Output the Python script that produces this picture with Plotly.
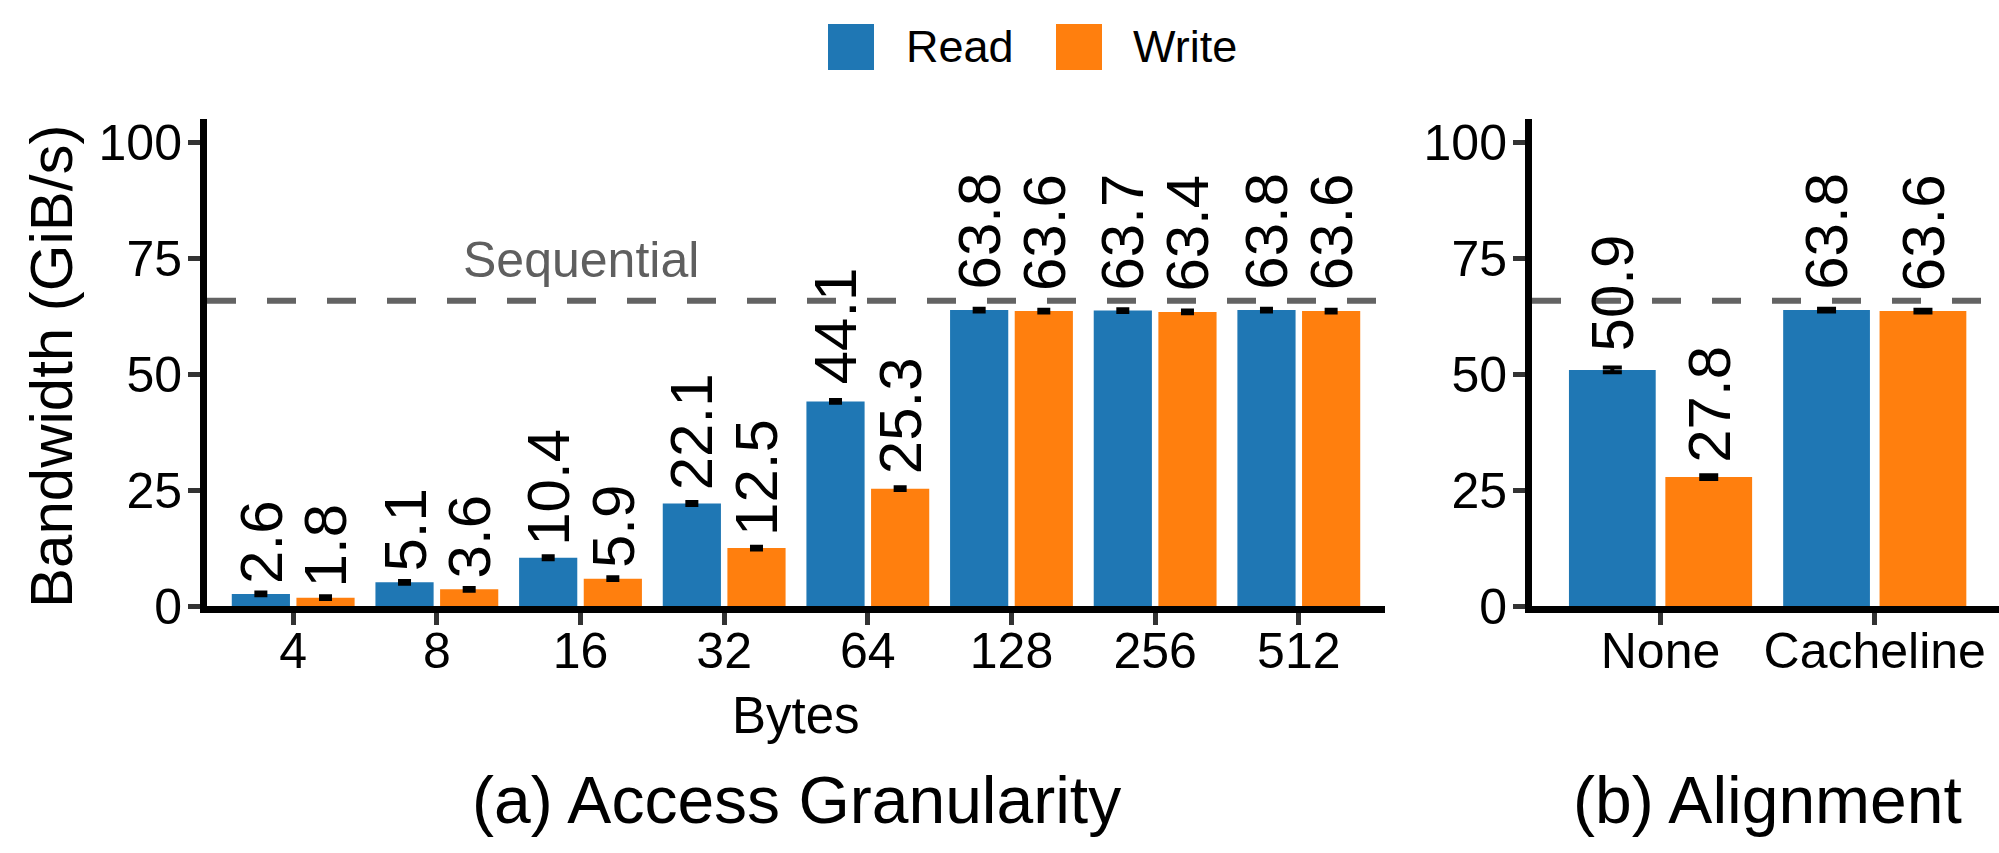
import plotly.graph_objects as go

# ---------------- data ----------------
bytes_labels = ["4", "8", "16", "32", "64", "128", "256", "512"]
read_gran = [2.6, 5.1, 10.4, 22.1, 44.1, 63.8, 63.7, 63.8]
write_gran = [1.8, 3.6, 5.9, 12.5, 25.3, 63.6, 63.4, 63.6]
read_gran_err = [0.3, 0.3, 0.3, 0.3, 0.3, 0.3, 0.3, 0.3]
write_gran_err = [0.3, 0.3, 0.3, 0.3, 0.3, 0.3, 0.3, 0.3]

align_labels = ["None", "Cacheline"]
read_align = [50.9, 63.8]
write_align = [27.8, 63.6]
read_align_err = [0.5, 0.3]
write_align_err = [0.4, 0.3]

sequential_bw = 65.8
y_ticks = [0, 25, 50, 75, 100]

# ---------------- style ----------------
BLUE = "#1f77b4"
ORANGE = "#ff7f0e"
FONT = "Liberation Sans"
W, H = 1999, 853
LABEL_NUDGE = 1.035  # labels sit slightly above bars, proportional to value


def px_x(p):
    return p / W


def px_y(p):
    return 1 - p / H


fig = go.Figure()

panels = [
    ("x", "y", bytes_labels, read_gran, write_gran, read_gran_err, write_gran_err, 6.5),
    ("x2", "y2", align_labels, read_align, write_align, read_align_err, write_align_err, 9.5),
]

for xa, ya, cats, rd, wr, rde, wre, ew in panels:
    fig.add_trace(go.Bar(
        x=cats, y=rd, xaxis=xa, yaxis=ya, name="Read",
        marker=dict(color=BLUE, line=dict(width=0)),
        error_y=dict(type="data", array=rde, color="black", thickness=4, width=ew),
        showlegend=False,
    ))
    fig.add_trace(go.Bar(
        x=cats, y=wr, xaxis=xa, yaxis=ya, name="Write",
        marker=dict(color=ORANGE, line=dict(width=0)),
        error_y=dict(type="data", array=wre, color="black", thickness=4, width=ew),
        showlegend=False,
    ))

annotations = []
shapes = []

# value labels
for xa, ya, cats, rd, wr, rde, wre, ew in panels:
    for i in range(len(cats)):
        for off, v in ((-0.225, rd[i]), (0.225, wr[i])):
            annotations.append(dict(
                x=i + off, y=v * LABEL_NUDGE, xref=xa, yref=ya, text=f"{v:.1f}",
                textangle=-90, xanchor="center", yanchor="bottom", yshift=8,
                showarrow=False, font=dict(family=FONT, size=60, color="black"),
            ))
    # sequential reference line
    shapes.append(dict(
        type="line", xref=f"{xa} domain", x0=0, x1=1, yref=ya,
        y0=sequential_bw, y1=sequential_bw,
        line=dict(color="#636363", width=6, dash="29px,31px"),
    ))

annotations.append(dict(
    x=2, y=74.6, xref="x", yref="y", text="Sequential", showarrow=False,
    xanchor="center", yanchor="middle",
    font=dict(family=FONT, size=50, color="#5f5f5f"),
))

# axis titles and subtitles
annotations += [
    dict(x=px_x(796), y=px_y(715), xref="paper", yref="paper", text="Bytes",
         showarrow=False, xanchor="center", yanchor="middle",
         font=dict(family=FONT, size=51, color="black")),
    dict(x=px_x(51), y=px_y(366), xref="paper", yref="paper", text="Bandwidth (GiB/s)",
         textangle=-90, showarrow=False, xanchor="center", yanchor="middle",
         font=dict(family=FONT, size=60, color="black")),
    dict(x=px_x(796), y=px_y(800), xref="paper", yref="paper", text="(a) Access Granularity",
         showarrow=False, xanchor="center", yanchor="middle",
         font=dict(family=FONT, size=66, color="black")),
    dict(x=px_x(1767), y=px_y(800), xref="paper", yref="paper", text="(b) Alignment",
         showarrow=False, xanchor="center", yanchor="middle",
         font=dict(family=FONT, size=66, color="black")),
]

# legend (drawn manually to get large keys)
for x0, color, label, tx in ((828, BLUE, "Read", 904), (1056, ORANGE, "Write", 1131)):
    shapes.append(dict(type="rect", xref="paper", yref="paper",
                       x0=px_x(x0), x1=px_x(x0 + 46), y0=px_y(70), y1=px_y(24),
                       fillcolor=color, line=dict(width=0)))
    annotations.append(dict(x=px_x(tx), y=px_y(46), xref="paper", yref="paper",
                            text=label, showarrow=False, xanchor="left", yanchor="middle",
                            font=dict(family=FONT, size=45, color="black")))

y_dom = [px_y(606), px_y(119)]
axis_common = dict(
    showline=True, linewidth=7, linecolor="black", ticks="outside", ticklen=12,
    tickwidth=5, tickcolor="#333333", showgrid=False, zeroline=False,
    tickfont=dict(family=FONT, size=50, color="black"), fixedrange=True,
    automargin=False,
)

fig.update_layout(
    width=W, height=H, autosize=False,
    margin=dict(l=0, r=0, t=0, b=0, pad=0),
    paper_bgcolor="white", plot_bgcolor="white",
    barmode="group", bargap=0.1, bargroupgap=0.1,
    showlegend=False,
    xaxis=dict(domain=[px_x(207), px_x(1385)], anchor="y", type="category",
               range=[-0.6, 7.6], ticklabelstandoff=-17, **axis_common),
    yaxis=dict(domain=y_dom, anchor="x", range=[0, 105], tickvals=y_ticks,
               ticklabelstandoff=-4, **axis_common),
    xaxis2=dict(domain=[px_x(1532), 1.0], anchor="y2", type="category",
                range=[-0.6, 1.58], ticklabelstandoff=-17, **axis_common),
    yaxis2=dict(domain=y_dom, anchor="x2", range=[0, 105], tickvals=y_ticks,
                ticklabelstandoff=-4, **axis_common),
    annotations=annotations,
    shapes=shapes,
)

fig.write_html("out.html", config={"displayModeBar": False},
               post_script="document.body.style.margin='0px';")
